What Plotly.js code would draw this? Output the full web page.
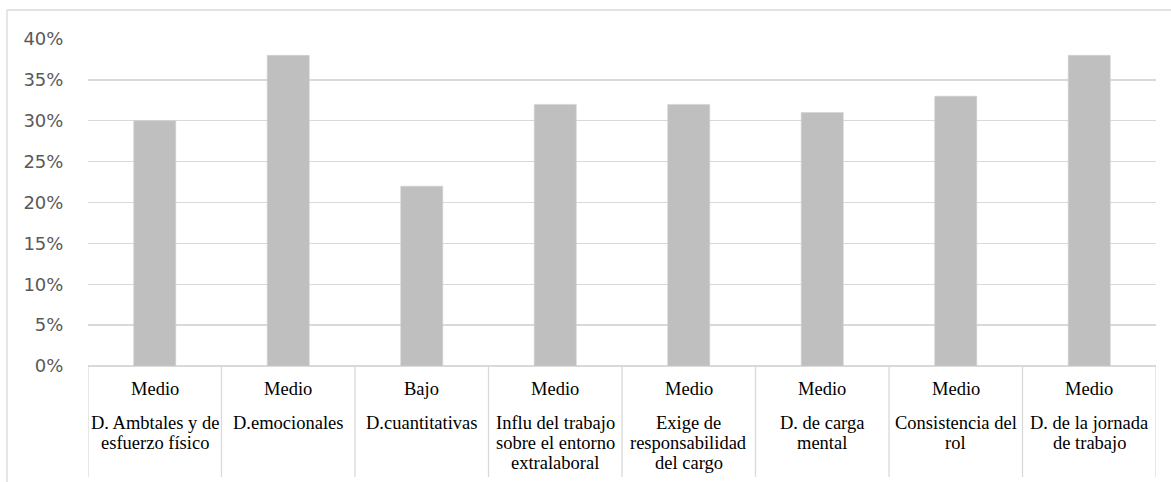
<!DOCTYPE html>
<html>
<head>
<meta charset="utf-8">
<script src="https://cdn.plot.ly/plotly-3.0.1.min.js"></script>
<style>
  html, body { margin: 0; padding: 0; background: #ffffff; }
  #chart { width: 1171px; height: 482px; }
</style>
</head>
<body>
<div id="chart"></div>
<script>
// Dimensions (wrapped over several lines with <br>)
const categories = [
  "D. Ambtales y de<br>esfuerzo físico",
  "D.emocionales",
  "D.cuantitativas",
  "Influ del trabajo<br>sobre el entorno<br>extralaboral",
  "Exige de<br>responsabilidad<br>del cargo",
  "D. de carga<br>mental",
  "Consistencia del<br>rol",
  "D. de la jornada<br>de trabajo"
];

// Risk level per dimension
const levels = ["Medio", "Medio", "Bajo", "Medio", "Medio", "Medio", "Medio", "Medio"];

// Share of workers per dimension
const values = [0.30, 0.38, 0.22, 0.32, 0.32, 0.31, 0.33, 0.38];

const yTicks = [0, 0.05, 0.10, 0.15, 0.20, 0.25, 0.30, 0.35, 0.40];

const W = 1171, H = 482;
const margin = { l: 88, r: 15, t: 39, b: 116 };
const plotW = W - margin.l - margin.r;
const plotH = H - margin.t - margin.b;

const gridColor = "#d9d9d9";
const serif = "Liberation Serif, Times New Roman, serif";

const trace = {
  type: "bar",
  x: categories,
  y: values,
  marker: { color: "#bfbfbf", line: { color: "#d0d0d0", width: 0.6 } },
  hoverinfo: "skip"
};

const annotations = [];
categories.forEach((cat, i) => {
  // level row
  annotations.push({
    xref: "x", yref: "paper", x: cat, y: 0,
    yanchor: "middle", xanchor: "center", yshift: -23,
    text: levels[i], showarrow: false,
    font: { family: serif, size: 18.5, color: "#000000" }
  });
  // dimension name, one annotation per line
  cat.split("<br>").forEach((line, j) => {
    annotations.push({
      xref: "x", yref: "paper", x: cat, y: 0,
      yanchor: "middle", xanchor: "center", yshift: -(57 + 20 * j),
      text: line, showarrow: false,
      font: { family: serif, size: 18.5, color: "#000000" }
    });
  });
});

// vertical dividers between the category cells
const shapes = [];
for (let k = 0; k <= categories.length; k++) {
  shapes.push({
    type: "line", xref: "x", yref: "paper",
    x0: k - 0.5, x1: k - 0.5, y0: 0, y1: -(477 - (H - margin.b)) / plotH,
    line: { color: gridColor, width: 1.3 }
  });
}

// chart area frame (top and left edges)
const fx = (7 - margin.l) / plotW;
const fy = ((H - margin.b) - 10) / plotH;
shapes.push({
  type: "line", xref: "paper", yref: "paper",
  x0: fx, x1: 1.2, y0: fy, y1: fy,
  line: { color: gridColor, width: 1.3 }
});
shapes.push({
  type: "line", xref: "paper", yref: "paper",
  x0: fx, x1: fx, y0: fy, y1: -0.5,
  line: { color: gridColor, width: 1.3 }
});

const layout = {
  width: W, height: H,
  margin: margin,
  paper_bgcolor: "#ffffff",
  plot_bgcolor: "#ffffff",
  showlegend: false,
  bargap: 0.685,
  xaxis: {
    type: "category",
    range: [-0.5, categories.length - 0.5],
    showticklabels: false,
    showgrid: false,
    zeroline: false,
    showline: false,
    fixedrange: true
  },
  yaxis: {
    range: [0, 0.4],
    tickvals: yTicks,
    tickformat: ".0%",
    showgrid: true,
    gridcolor: gridColor,
    gridwidth: 1.3,
    zeroline: true,
    zerolinecolor: gridColor,
    zerolinewidth: 1.3,
    showline: false,
    ticks: "outside",
    ticklen: 20,
    tickcolor: "rgba(0,0,0,0)",
    tickfont: { family: "DejaVu Sans, sans-serif", size: 18, color: "#595959" },
    fixedrange: true
  },
  annotations: annotations,
  shapes: shapes
};

Plotly.newPlot("chart", [trace], layout, { displayModeBar: false, staticPlot: true });
</script>
</body>
</html>
